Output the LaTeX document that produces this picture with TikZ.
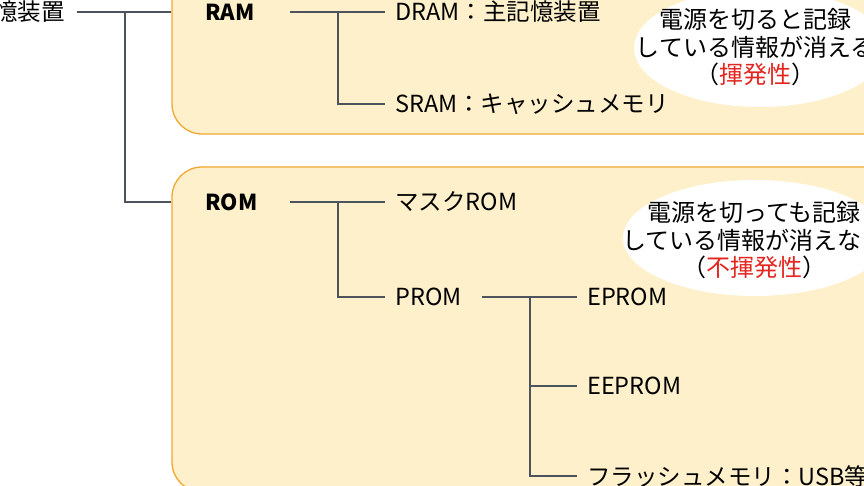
\documentclass[tikz,border=0pt]{standalone}
\usepackage{fontspec}
\setmainfont{Noto Sans CJK JP}
\usepackage{tikz}
\usetikzlibrary{shapes.geometric}
\definecolor{boxfill}{HTML}{FEF0CB}
\definecolor{boxline}{HTML}{F0A830}
\definecolor{linkgray}{HTML}{4D535C}
\definecolor{hotred}{HTML}{E3261F}

\begin{document}
\begin{tikzpicture}[x=1pt,y=-1pt]
\tikzstyle{every node}+=[inner sep=0pt]
\tikzstyle{box}=[draw=boxline,fill=boxfill,line width=1.3pt,rounded corners=30pt]
\tikzstyle{link}=[draw=linkgray,line width=1.8pt]
\tikzstyle{lbl}=[anchor=west,font=\fontsize{23.5}{28}\selectfont]
\tikzstyle{head}=[anchor=west,font=\fontsize{22}{26}\selectfont\bfseries]
\tikzstyle{note}=[align=center,font=\fontsize{24}{27.5}\selectfont]
\useasboundingbox (0,0) rectangle (864,486);
\clip (0,0) rectangle (864,486);
% boxes
\node[box,minimum width=728pt,minimum height=164pt] (ramBox) at (536,52) {};
\node[box,minimum width=728pt,minimum height=325pt] (romBox) at (536,329.5) {};
% notes
\fill[white] (760,48) ellipse (126 and 59);
\fill[white] (755,238) ellipse (132 and 58);
\node[note] (ramNote) at (755,47.5) {電源を切ると記録\\している情報が消える\\（{\color{hotred}揮発性}）};
\node[note] (romNote) at (754,240.5) {電源を切っても記録\\している情報が消えない\\（{\color{hotred}不揮発性}）};
% labels
\node[lbl,anchor=east] (mem) at (65,12) {記憶装置};
\node[head] (ram) at (205,12) {RAM};
\node[head] (rom) at (205,202) {ROM};
\node[lbl] (dram) at (395,12) {DRAM：主記憶装置};
\node[lbl] (sram) at (395,104) {SRAM：キャッシュメモリ};
\node[lbl] (mask) at (395,202) {マスクROM};
\node[lbl] (prom) at (395,297) {PROM};
\node[lbl] (eprom) at (587,297) {EPROM};
\node[lbl] (eeprom) at (587,386) {EEPROM};
\node[lbl] (flash) at (587,476) {フラッシュメモリ：USB等};
% junctions
\coordinate (memJ) at (125,12);
\coordinate (ramJ) at (338,12);
\coordinate (romJ) at (338,202);
\coordinate (promJ) at (530,297);
% connectors
\draw[link] ([xshift=12pt]mem.east) -- (ramBox.west |- mem.east);
\draw[link] (memJ) |- (romBox.west |- rom.west);
\draw[link] (290,12) -- ([xshift=-10pt]dram.west);
\draw[link] (ramJ) |- ([xshift=-10pt]sram.west);
\draw[link] (290,202) -- ([xshift=-10pt]mask.west);
\draw[link] (romJ) |- ([xshift=-10pt]prom.west);
\draw[link] (482,297) -- ([xshift=-10pt]eprom.west);
\draw[link] (promJ) |- ([xshift=-10pt]eeprom.west);
\draw[link] (promJ) |- ([xshift=-10pt]flash.west);
\end{tikzpicture}
\end{document}
